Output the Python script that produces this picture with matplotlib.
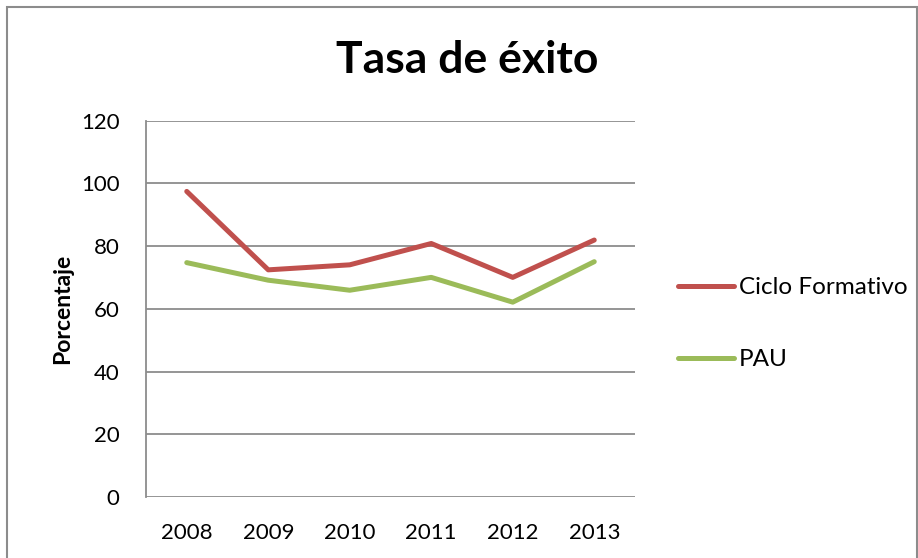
import matplotlib
matplotlib.use('Agg')
import matplotlib.pyplot as plt
from matplotlib.patches import Rectangle

# Data
years = ['2008', '2009', '2010', '2011', '2012', '2013']
ciclo_formativo = [97.4, 72.4, 74.0, 80.8, 70.0, 81.9]
pau = [74.7, 69.1, 65.9, 70.0, 62.1, 75.0]
y_ticks = [0, 20, 40, 60, 80, 100, 120]

plt.rcParams['font.family'] = ['Lato', 'DejaVu Sans']

W, H = 918, 558
fig = plt.figure(figsize=(W / 100, H / 100), dpi=100)

# outer chart border (bottom edge falls outside the image)
fig.patches.append(Rectangle((7 / W, -0.05), (W - 8) / W, (H - 7) / H + 0.05,
                             transform=fig.transFigure, fill=False,
                             edgecolor='#8c8c8c', linewidth=1.5))

ax = fig.add_axes([146 / W, (H - 497) / H, (635 - 146) / W, (497 - 120.5) / H])

x = range(len(years))
ax.plot(x, ciclo_formativo, color='#C0504D', linewidth=3.6,
        solid_capstyle='round', solid_joinstyle='round', label='Ciclo Formativo')
ax.plot(x, pau, color='#9BBB59', linewidth=3.6,
        solid_capstyle='round', solid_joinstyle='round', label='PAU')

ax.set_xlim(-0.5, len(years) - 0.5)
ax.set_ylim(0, 120)
ax.set_yticks(y_ticks)
ax.set_xticks(list(x))
ax.set_xticklabels(years)
ax.yaxis.grid(True, color='#8c8c8c', linewidth=1.3)
ax.set_axisbelow(True)
for side in ['top', 'right', 'bottom']:
    ax.spines[side].set_visible(False)
ax.spines['left'].set_color('#8c8c8c')
ax.spines['left'].set_linewidth(1.3)
ax.tick_params(axis='both', length=0, labelsize=16, colors='black')
ax.tick_params(axis='y', pad=19)
ax.tick_params(axis='x', pad=19)

ax.set_ylabel('Porcentaje', fontsize=16.5, fontweight='bold', labelpad=6)

fig.text(467 / W, 1 - 60 / H, 'Tasa de éxito', fontsize=32, fontweight='bold',
         ha='center', va='center')

fig.legend(loc='upper left', bbox_to_anchor=(678 / W, 1 - 277 / H), frameon=False,
           borderpad=0, borderaxespad=0, fontsize=17.5, handlelength=2.3,
           handletextpad=0.2, labelspacing=2.1)

fig.savefig('out.png', dpi=100)
